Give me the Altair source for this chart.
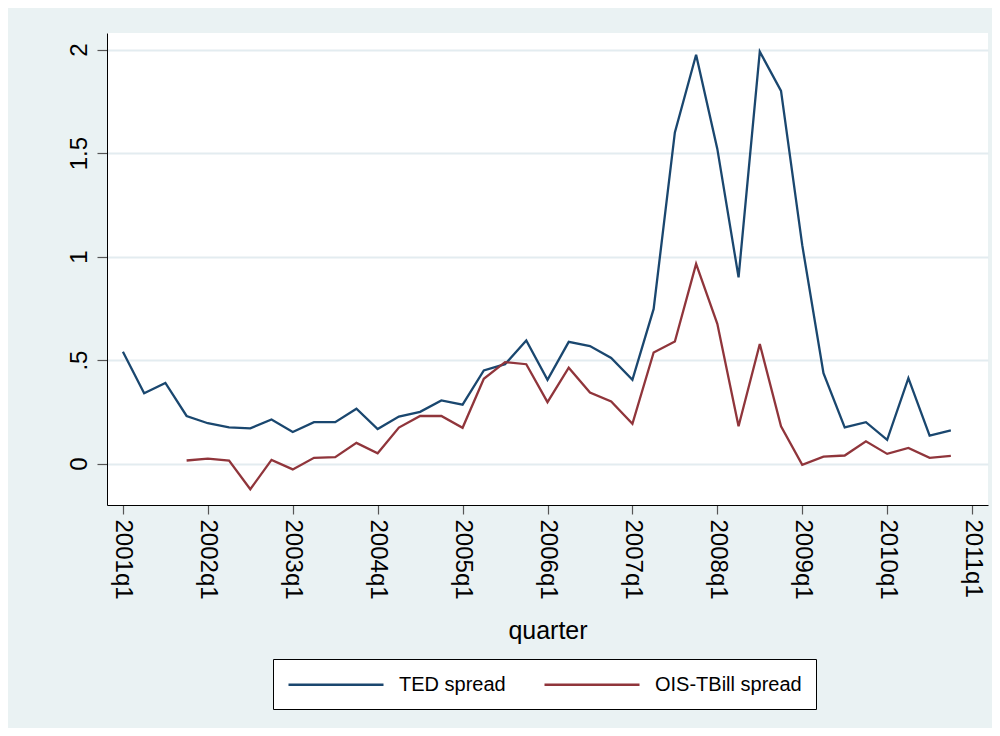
import altair as alt
import pandas as pd

quarters = [f"{y}q{q}" for y in range(2001, 2011) for q in range(1, 5)]

ted_spread = [0.54, 0.34, 0.39, 0.23, 0.195, 0.175, 0.17, 0.213, 0.153, 0.20,
              0.20, 0.265, 0.167, 0.227, 0.25, 0.305, 0.285, 0.45, 0.48, 0.595,
              0.405, 0.588, 0.568, 0.51, 0.405, 0.747, 1.60, 1.975, 1.52, 0.90,
              1.99, 1.80, 1.055, 0.437, 0.175, 0.20, 0.115, 0.413, 0.135, 0.16]

ois_tbill_spread = [None, None, None, 0.015, 0.024, 0.015, -0.124, 0.018, -0.028, 0.028,
                    0.031, 0.10, 0.05, 0.174, 0.23, 0.23, 0.173, 0.41, 0.49, 0.48,
                    0.297, 0.463, 0.343, 0.30, 0.192, 0.537, 0.59, 0.965, 0.675, 0.18,
                    0.578, 0.18, -0.006, 0.034, 0.039, 0.108, 0.047, 0.076, 0.028, 0.037]

series_names = ["TED spread", "OIS-TBill spread"]
series_colors = ["#1A476F", "#90353B"]
x_tick_years = list(range(2001, 2012))
y_ticks = [0, 0.5, 1, 1.5, 2]

rows = []
for name, vals in zip(series_names, [ted_spread, ois_tbill_spread]):
    for qs, v in zip(quarters, vals):
        if v is not None:
            rows.append({
                "quarter": qs,
                "t": int(qs[:4]) + (int(qs[-1]) - 1) / 4,
                "series": name,
                "value": v,
            })
df = pd.DataFrame(rows)

FONT = "Liberation Sans"

chart = alt.Chart(df).mark_line(strokeWidth=2.3).encode(
    x=alt.X(
        "t:Q",
        title="quarter",
        scale=alt.Scale(domain=[2000.8125, 2011.1875], nice=False, zero=False),
        axis=alt.Axis(
            values=x_tick_years,
            labelExpr="datum.value + 'q1'",
            labelAngle=90,
            labelAlign="left",
            labelBaseline="middle",
            labelPadding=5,
            labelFlush=False,
            labelOverlap=False,
            tickSize=9,
            grid=False,
        ),
    ),
    y=alt.Y(
        "value:Q",
        title=None,
        scale=alt.Scale(domain=[-0.2, 2.08], nice=False, zero=False),
        axis=alt.Axis(
            values=y_ticks,
            labelExpr="datum.value == 0.5 ? '.5' : format(datum.value, '~g')",
            labelAngle=270,
            labelAlign="center",
            labelBaseline="alphabetic",
            labelPadding=11,
            labelFlush=False,
            labelOverlap=False,
            tickSize=10,
            grid=True,
            gridColor="#E3ECF0",
            gridWidth=2,
        ),
    ),
    color=alt.Color(
        "series:N",
        scale=alt.Scale(domain=series_names, range=series_colors),
        legend=alt.Legend(
            title=None,
            orient="none",
            legendX=166,
            legendY=626,
            direction="horizontal",
            columns=2,
            symbolType="M-1,0H8.5",
            symbolSize=400,
            symbolOffset=0,
            symbolStrokeWidth=2.5,
            labelFontSize=20,
            labelFont=FONT,
            labelColor="black",
            labelOffset=89,
            columnPadding=33,
            padding=14,
            strokeColor="black",
            fillColor="white",
        ),
    ),
).properties(
    width=881,
    height=472,
    autosize=alt.AutoSizeParams(type="none"),
    padding={"left": 99, "top": 25, "right": 4, "bottom": 223},
).configure(
    background="#EAF2F3",
).configure_view(
    fill="white",
    strokeWidth=0,
).configure_axis(
    labelFont=FONT,
    labelFontSize=24,
    labelColor="black",
    titleFont=FONT,
    titleFontSize=25,
    titleFontWeight="normal",
    titleColor="black",
    titlePadding=19,
    domainColor="black",
    domainWidth=1,
    tickColor="#555555",
    tickWidth=1.2,
)

chart.save("out.html", embed_options={"renderer": "svg", "actions": False})
